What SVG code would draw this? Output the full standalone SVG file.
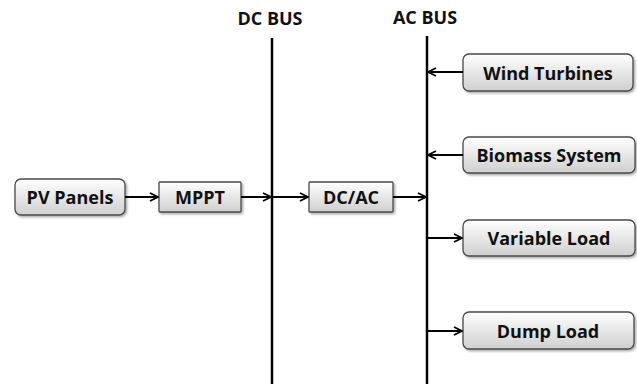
<svg xmlns="http://www.w3.org/2000/svg" width="637" height="386" viewBox="0 0 637 386">
<defs>
<linearGradient id="g" x1="0" y1="0" x2="0" y2="1">
<stop offset="0" stop-color="#ffffff"/>
<stop offset="1" stop-color="#cfcfcf"/>
</linearGradient>
<filter id="sh" x="-10%" y="-20%" width="130%" height="160%">
<feDropShadow dx="1.5" dy="1.5" stdDeviation="1.2" flood-color="#000" flood-opacity="0.35"/>
</filter>
<marker id="ah" viewBox="0 0 10 10" refX="9" refY="5" markerWidth="10" markerHeight="10" markerUnits="userSpaceOnUse" orient="auto">
<path d="M1,1 L9,5 L1,9" fill="none" stroke="#000" stroke-width="1.8"/>
</marker>
</defs>
<style>
.box{fill:url(#g);stroke:#4a4a4a;stroke-width:1.3;filter:url(#sh)}
.t{font-family:"Open Sans","Liberation Sans",sans-serif;font-weight:bold;font-size:18px;fill:#111;text-anchor:middle;dominant-baseline:central}
.bus{stroke:#000;stroke-width:2.5}
.c{stroke:#000;stroke-width:2;fill:none;marker-end:url(#ah)}
</style>
<rect width="637" height="386" fill="#fff"/>
<g id="dcbus">
<line class="bus" x1="272" y1="38" x2="272" y2="384"/>
<text class="t" x="270" y="18">DC BUS</text>
</g>
<g id="acbus">
<line class="bus" x1="427" y1="36" x2="427" y2="384"/>
<text class="t" x="425" y="17">AC BUS</text>
</g>
<g id="pv">
<rect class="box" x="15" y="179" width="110" height="36" rx="6"/>
<text class="t" x="70" y="197">PV Panels</text>
</g>
<g id="mppt">
<rect class="box" x="159" y="182" width="82" height="30" rx="1"/>
<text class="t" x="200" y="197">MPPT</text>
</g>
<g id="dcac">
<rect class="box" x="309" y="182" width="84" height="30" rx="1"/>
<text class="t" x="351" y="197">DC/AC</text>
</g>
<g id="wind">
<rect class="box" x="463" y="54" width="170" height="37" rx="6"/>
<text class="t" x="548" y="72.5">Wind Turbines</text>
</g>
<g id="biomass">
<rect class="box" x="463" y="137" width="172" height="36" rx="6"/>
<text class="t" x="549" y="155">Biomass System</text>
</g>
<g id="varload">
<rect class="box" x="463" y="220" width="172" height="36" rx="6"/>
<text class="t" x="549" y="238">Variable Load</text>
</g>
<g id="dumpload">
<rect class="box" x="463" y="312" width="171" height="37" rx="6"/>
<text class="t" x="548" y="330.5">Dump Load</text>
</g>
<g id="connectors">
<line class="c" x1="125" y1="197" x2="158" y2="197"/>
<line class="c" x1="241" y1="197" x2="271" y2="197"/>
<line class="c" x1="272" y1="197" x2="308" y2="197"/>
<line class="c" x1="393" y1="197" x2="426" y2="197"/>
<line class="c" x1="463" y1="72" x2="428" y2="72"/>
<line class="c" x1="463" y1="155" x2="428" y2="155"/>
<line class="c" x1="427" y1="238" x2="462" y2="238"/>
<line class="c" x1="427" y1="331" x2="462" y2="331"/>
</g>
</svg>
